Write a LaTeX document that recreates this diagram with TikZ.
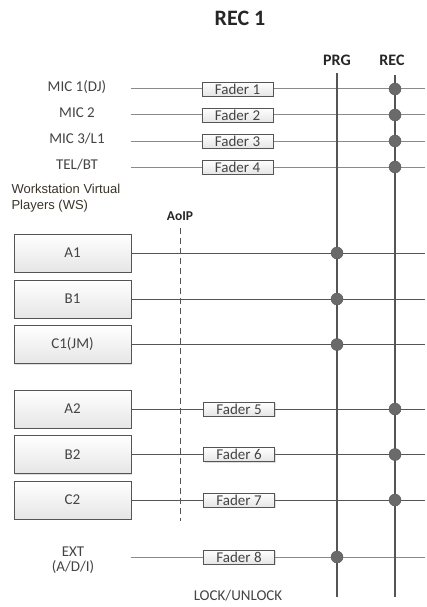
\documentclass[tikz,border=0pt]{standalone}
\usepackage{fontspec}
\setmainfont{Carlito}
\newfontfamily\arialfont{Liberation Sans}
\usetikzlibrary{shadows}
\definecolor{ln}{HTML}{555555}
\definecolor{lnl}{HTML}{8A8A8A}
\definecolor{dotc}{HTML}{6A6A6A}
\definecolor{txt}{HTML}{444444}
\definecolor{wst}{HTML}{3A3428}
\tikzset{
  fader/.style={draw=ln, line width=0.8pt, top color=white, bottom color=black!10,
    minimum width=71pt, minimum height=14pt, inner sep=0pt, font=\fontsize{15}{15}\selectfont, text=txt,
    drop shadow={shadow xshift=1pt, shadow yshift=-1pt, opacity=0.25}},
  wsbox/.style={draw=ln, line width=0.8pt, top color=white, bottom color=black!10,
    minimum width=117pt, minimum height=38pt, inner sep=0pt, font=\fontsize{15}{15}\selectfont, text=txt,
    drop shadow={shadow xshift=1pt, shadow yshift=-1pt, opacity=0.25}},
  srclbl/.style={font=\fontsize{15}{15}\selectfont, text=txt},
  busline/.style={draw=ln, line width=2.2pt},
  micline/.style={draw=lnl, line width=1pt},
  wsline/.style={draw=ln, line width=1pt},
  dotn/.style={circle, fill=dotc, draw=ln, line width=0.4pt, minimum size=12pt, inner sep=0pt},
  buslbl/.style={font=\bfseries\fontsize{16}{16}\selectfont, text=black!85},
}
\begin{document}
\begin{tikzpicture}[x=1pt,y=-1pt]
\useasboundingbox (0,0) rectangle (427,607);
\node[font=\bfseries\fontsize{22}{22}\selectfont, text=black!85] (title) at (240,18) {REC 1};
\node[buslbl] (prglbl) at (337,60) {PRG};
\node[buslbl] (reclbl) at (392,60) {REC};
% bus lines
\coordinate (prgT) at (337,73);
\coordinate (prgB) at (337,597);
\coordinate (recT) at (395,75);
\coordinate (recB) at (395,597);
% source labels
\node[srclbl] (mic1) at (77,87) {MIC 1(DJ)};
\node[srclbl] (mic2) at (77,113) {MIC 2};
\node[srclbl] (mic3) at (77,139) {MIC 3/L1};
\node[srclbl] (tel) at (77,165) {TEL/BT};
% mic rows
\foreach \n/\y in {1/89,2/115,3/141,4/167}{
  \coordinate (ms\n) at (131,\y);
  \coordinate (me\n) at (425,\y);
  \draw[micline] (ms\n) -- (me\n);
}
\foreach \n/\y in {1/89,2/115,3/141,4/167}{
  \node[fader] (f\n) at (237.5,\y) {Fader \n};
}
% WS label
\node[font=\arialfont\fontsize{13}{16}\selectfont, text=wst, align=left, anchor=north west] (wslbl) at (8,181) {Workstation Virtual\\Players (WS)};
\node[font=\bfseries\fontsize{13.5}{13.5}\selectfont, text=black!85] (aoip) at (180,216) {AoIP};
\coordinate (aoT) at (180,228);
\coordinate (aoB) at (180,521);
\draw[draw=ln, line width=0.8pt, dash pattern=on 6pt off 4pt] (aoT) -- (aoB);
% WS boxes
\node[wsbox] (A1) at (72.5,253) {A1};
\node[wsbox] (B1) at (72.5,299) {B1};
\node[wsbox] (C1) at (72.5,344.5) {C1(JM)};
\node[wsbox] (A2) at (72.5,409) {A2};
\node[wsbox] (B2) at (72.5,454.5) {B2};
\node[wsbox] (C2) at (72.5,500) {C2};
\foreach \b/\y in {A1/253,B1/299,C1/344.5}{
  \coordinate (e\b) at (425,\y);
  \draw[wsline] (\b.east) -- (e\b);
}
\foreach \b/\y in {A2/409,B2/454.5,C2/500}{
  \coordinate (e\b) at (425,\y);
  \draw[wsline] (\b.east) -- (e\b);
}
\node[fader] (f5) at (239,409) {Fader 5};
\node[fader] (f6) at (239,454.5) {Fader 6};
\node[fader] (f7) at (239,500) {Fader 7};
% EXT
\node[srclbl, align=center] (ext) at (73,560) {EXT\\(A/D/I)};
\coordinate (xs) at (131,557);
\coordinate (xe) at (425,557);
\draw[micline] (xs) -- (xe);
\node[fader] (f8) at (239,557) {Fader 8};
\node[srclbl] (lock) at (238,596) {LOCK/UNLOCK};
% buses
\draw[busline] (prgT) -- (prgB);
\draw[busline] (recT) -- (recB);
% dots
\foreach \y in {89,115,141,167,409,454.5,500}{
  \node[dotn] at (395,\y) {};
}
\foreach \y in {253,299,344.5,557}{
  \node[dotn] at (337,\y) {};
}
\end{tikzpicture}
\end{document}
